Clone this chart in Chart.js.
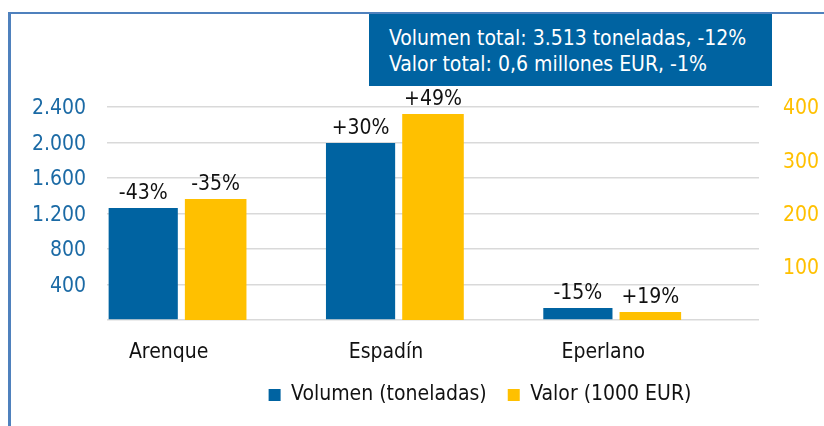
<!DOCTYPE html>
<html>
<head>
<meta charset="utf-8">
<script src="https://cdn.jsdelivr.net/npm/chart.js@4.4.1/dist/chart.umd.min.js"></script>
<style>
  html, body { margin: 0; padding: 0; background: #fff; }
  #wrap { position: relative; width: 824px; height: 426px; overflow: hidden; }
  #frame { position: absolute; left: 8px; top: 12px; right: 0; bottom: 0;
           border-left: 3px solid #4f81bd; border-top: 2px solid #4f81bd; }
  #note { position: absolute; left: 369px; top: 14px; width: 403px; height: 72px;
          background: #0063a1; color: #fff; box-sizing: border-box;
          padding: 11px 0 0 20px; font-family: "DejaVu Sans Condensed", "DejaVu Sans", sans-serif;
          font-size: 21px; line-height: 26px; white-space: nowrap; }
  canvas { position: absolute; left: 0; top: 0; }
</style>
</head>
<body>
<div id="wrap">
  <div id="frame"></div>
  <canvas id="c" width="824" height="426"></canvas>
  <div id="note"><div id="l1"></div><div id="l2"></div></div>
</div>
<script>
const categories = ['Arenque', 'Espadín', 'Eperlano'];
const seriesNames = ['Volumen (toneladas)', 'Valor (1000 EUR)'];
const volumen = [1262, 1994, 135];
const valor = [227, 387, 15];
const volumenChange = ['-43%', '+30%', '-15%'];
const valorChange = ['-35%', '+49%', '+19%'];
const leftTickValues = [0, 400, 800, 1200, 1600, 2000, 2400];
const leftTickLabels = ['', '400', '800', '1.200', '1.600', '2.000', '2.400'];
const rightTickValues = [100, 200, 300, 400];
const rightTickLabels = ['100', '200', '300', '400'];
const noteLines = ['Volumen total: 3.513 toneladas, -12%', 'Valor total: 0,6 millones EUR, -1%'];

document.getElementById('l1').textContent = noteLines[0];
document.getElementById('l2').textContent = noteLines[1];

const FONT = '"DejaVu Sans Condensed", "DejaVu Sans", sans-serif';
const BLUE = '#0063a1';
const GOLD = '#ffc000';

const barLabels = {
  id: 'barLabels',
  afterDatasetsDraw(chart) {
    const ctx = chart.ctx;
    const sets = [volumenChange, valorChange];
    ctx.save();
    ctx.font = '21px ' + FONT;
    ctx.fillStyle = '#111';
    ctx.textAlign = 'center';
    ctx.textBaseline = 'alphabetic';
    sets.forEach((labels, di) => {
      const meta = chart.getDatasetMeta(di);
      meta.data.forEach((bar, i) => {
        ctx.fillText(labels[i], bar.x, bar.y - 9);
      });
    });
    ctx.restore();
  }
};

const legendShift = {
  id: 'legendShift',
  afterLayout(chart) {
    const lg = chart.legend;
    if (lg) { lg.left += 62; lg.right += 62; }
  }
};

new Chart(document.getElementById('c'), {
  type: 'bar',
  data: {
    labels: categories,
    datasets: [
      { label: seriesNames[0], data: volumen, backgroundColor: BLUE, yAxisID: 'y', barPercentage: 0.955, borderWidth: 0 },
      { label: seriesNames[1], data: valor, backgroundColor: GOLD, yAxisID: 'y1', barPercentage: 0.85, borderWidth: 0 },
      { label: '', data: [null, null, null], backgroundColor: 'rgba(0,0,0,0)', yAxisID: 'y', borderWidth: 0 }
    ]
  },
  options: {
    responsive: false,
    animation: false,
    devicePixelRatio: 1,
    layout: { padding: { top: 107, left: 12, right: 0, bottom: 10.5 } },
    datasets: { bar: { categoryPercentage: 1.0 } },
    scales: {
      x: {
        grid: { display: false, drawTicks: false },
        border: { display: false },
        ticks: { font: { family: FONT, size: 21 }, color: '#111', labelOffset: -47, padding: 20, maxRotation: 0 },
        afterFit(s) { s.height = 43.5; }
      },
      y: {
        position: 'left',
        min: 0, max: 2400,
        afterBuildTicks(s) { s.ticks = leftTickValues.map(v => ({ value: v })); },
        ticks: {
          font: { family: FONT, size: 21 }, color: '#1b6aa5', padding: 21, labelOffset: 2,
          callback(v) { const i = leftTickValues.indexOf(v); return i >= 0 ? leftTickLabels[i] : ''; }
        },
        grid: { color: '#d9d9d9', lineWidth: 1.6, drawTicks: false },
        border: { display: false },
        afterFit(s) { s.width = 95; }
      },
      y1: {
        position: 'right',
        min: 0, max: 400,
        afterBuildTicks(s) { s.ticks = rightTickValues.map(v => ({ value: v })); },
        ticks: {
          font: { family: FONT, size: 21 }, color: GOLD, padding: 24, labelOffset: 2,
          callback(v) { const i = rightTickValues.indexOf(v); return i >= 0 ? rightTickLabels[i] : ''; }
        },
        grid: { display: false, drawTicks: false },
        border: { display: false },
        afterFit(s) { s.width = 65; }
      }
    },
    plugins: {
      legend: {
        position: 'bottom',
        labels: {
          boxWidth: 12, boxHeight: 12, padding: 21,
          font: { family: FONT, size: 21 }, color: '#111',
          filter(item) { return item.text !== ''; }
        }
      },
      tooltip: { enabled: false }
    }
  },
  plugins: [barLabels, legendShift]
});
</script>
</body>
</html>
